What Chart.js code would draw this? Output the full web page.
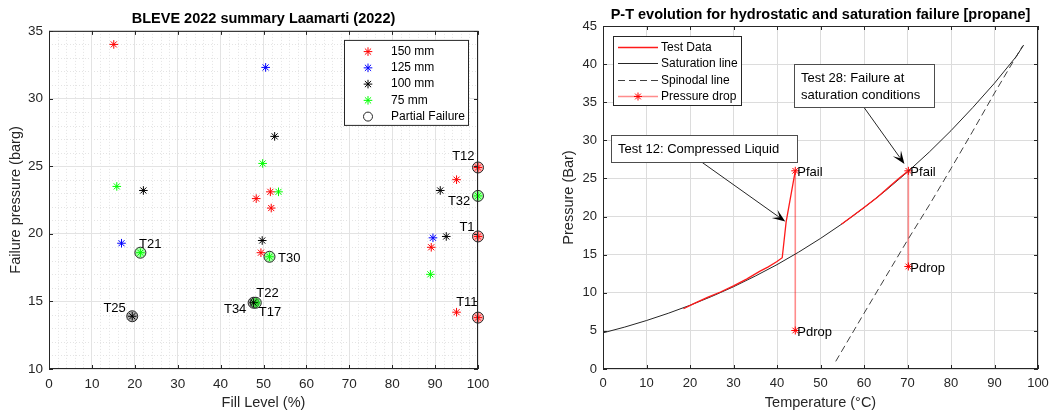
<!DOCTYPE html>
<html>
<head>
<meta charset="utf-8">
<script src="https://cdn.jsdelivr.net/npm/chart.js@4.4.1/dist/chart.umd.min.js"></script>
<style>
  body { margin: 0; background: #fff; }
  #wrap { position: relative; width: 1054px; height: 412px; }
  canvas { position: absolute; top: 0; }
</style>
</head>
<body>
<div id="wrap">
  <canvas id="leftChart" width="527" height="412" style="left:0"></canvas>
  <canvas id="rightChart" width="527" height="412" style="left:527px"></canvas>
</div>
<script>
// ---- left plot: fill level (%) vs failure pressure (barg), one list per tank size
const fill150 = [15.1, 48.3, 51.6, 51.8, 49.4, 100, 95, 100, 89.1, 95, 100];
const press150 = [34.0, 22.6, 23.1, 21.9, 18.6, 24.9, 24.0, 19.8, 19.0, 14.2, 13.8];
const fill125 = [50.5, 16.9, 89.5];
const press125 = [32.3, 19.3, 19.7];
const fill100 = [52.6, 22.0, 91.2, 49.7, 92.6, 19.4, 47.7];
const press100 = [27.2, 23.2, 23.2, 19.5, 19.8, 13.9, 14.9];
const fill75 = [49.8, 15.8, 53.5, 100, 21.3, 51.4, 88.9, 48.2];
const press75 = [25.2, 23.5, 23.1, 22.8, 18.6, 18.3, 17.0, 14.9];
const partialFill = [100, 100, 100, 100, 21.3, 51.4, 19.4, 47.7, 48.2];
const partialPress = [24.9, 22.8, 19.8, 13.8, 18.6, 18.3, 13.9, 14.9, 14.9];
const partialSize = ['150 mm', '75 mm', '150 mm', '150 mm', '75 mm', '75 mm', '100 mm', '100 mm', '75 mm'];

// test names written next to the partial failures (data coords of the text)
const testNames = ['T12', 'T32', 'T1', 'T11', 'T21', 'T30', 'T25', 'T22', 'T34', 'T17'];
const nameX = [99.2, 98.2, 99.2, 99.9, 21.0, 53.4, 17.9, 48.3, 46.0, 48.9];
const nameY = [25.7, 22.4, 20.5, 14.9, 19.2, 18.2, 14.5, 15.6, 14.4, 14.2];
const nameAlign = ['right', 'right', 'right', 'right', 'left', 'left', 'right', 'left', 'right', 'left'];

// ---- right plot: P-T evolution (propane)
const satT = [0, 5, 10, 15, 20, 25, 30, 35, 40, 45, 50, 55, 60, 65, 70, 75, 80, 85, 90, 95, 96.7];
const satP = [4.74, 5.50, 6.36, 7.31, 8.36, 9.52, 10.79, 12.19, 13.69, 15.34, 17.13, 19.06, 21.16, 23.42, 25.85, 28.46, 31.27, 34.3, 37.5, 41.0, 42.5];
const spinT = [53.5, 60, 65, 70, 75, 80, 85, 90, 95, 96.5];
const spinP = [1.0, 7.3, 12.1, 16.9, 21.5, 26.3, 31.2, 36.2, 41.0, 42.4];
const test12T = [18.5, 21, 24, 27, 30, 33, 36, 38, 40, 41.2, 42.1, 44.2];
const test12P = [7.9, 8.6, 9.4, 10.1, 10.9, 11.8, 12.8, 13.4, 14.1, 14.6, 19.3, 26.0];
const test28T = [54.8, 57, 60, 63, 66, 68, 70.2];
const test28P = [19.0, 19.9, 21.2, 22.5, 24.0, 25.0, 26.0];
const drop12T = [44.2, 44.2];
const drop12P = [26.0, 5.05];
const drop28T = [70.2, 70.2];
const drop28P = [26.0, 13.45];
const markNames = ['Pfail', 'Pdrop', 'Pfail', 'Pdrop'];
const markT = [44.2, 44.2, 70.2, 70.2];
const markP = [26.0, 5.05, 26.0, 13.45];

const notes = [
  {lines: ['Test 12: Compressed Liquid'], box: [1.9, 30.7, 44.6, 27.1], from: [22.8, 27.1], to: [41.9, 19.35]},
  {lines: ['Test 28: Failure at', 'saturation conditions'], box: [43.8, 40.0, 76.2, 34.4], from: [59.9, 34.4], to: [69.3, 26.9]}
];

const font = "'Liberation Sans', Arial, Helvetica, sans-serif";
Chart.defaults.font.family = font;
Chart.defaults.color = '#262626';

const sizeColors = {'150 mm': '#ff0000', '125 mm': '#0000ff', '100 mm': '#000000', '75 mm': '#00ff00'};
const sizeTints = {'150 mm': 'rgba(255,0,0,0.3)', '125 mm': 'rgba(0,0,255,0.3)', '100 mm': 'rgba(0,0,0,0.3)', '75 mm': 'rgba(0,255,0,0.35)'};

const pts = (xs, ys) => xs.map((x, i) => ({x: x, y: ys[i]}));

function marker(ctx, style, r, x, y) {
  ctx.beginPath();
  if (style === 'circle') {
    ctx.arc(x, y, r, 0, Math.PI * 2);
  } else {
    const d = r * 0.72;
    ctx.moveTo(x - r, y); ctx.lineTo(x + r, y);
    ctx.moveTo(x, y - r); ctx.lineTo(x, y + r);
    ctx.moveTo(x - d, y - d); ctx.lineTo(x + d, y + d);
    ctx.moveTo(x - d, y + d); ctx.lineTo(x + d, y - d);
  }
  ctx.stroke();
}

// box around the axes and inward ticks, matlab style
const framePlugin = {
  id: 'frame',
  afterDatasetsDraw(chart) {
    const ctx = chart.ctx, a = chart.chartArea, xs = chart.scales.x, ys = chart.scales.y;
    ctx.save();
    ctx.strokeStyle = '#262626';
    ctx.lineWidth = 1;
    ctx.strokeRect(a.left + 0.5, a.top + 0.5, a.right - a.left - 1, a.bottom - a.top - 1);
    ctx.beginPath();
    xs.ticks.forEach(t => {
      const p = Math.round(xs.getPixelForValue(t.value)) + 0.5;
      ctx.moveTo(p, a.bottom); ctx.lineTo(p, a.bottom - 4);
      ctx.moveTo(p, a.top); ctx.lineTo(p, a.top + 4);
    });
    ys.ticks.forEach(t => {
      const p = Math.round(ys.getPixelForValue(t.value)) + 0.5;
      ctx.moveTo(a.left, p); ctx.lineTo(a.left + 4, p);
      ctx.moveTo(a.right, p); ctx.lineTo(a.right - 4, p);
    });
    ctx.stroke();
    ctx.restore();
  }
};

const minorGridPlugin = {
  id: 'minorGrid',
  beforeDatasetsDraw(chart) {
    const ctx = chart.ctx, a = chart.chartArea, xs = chart.scales.x, ys = chart.scales.y;
    ctx.save();
    ctx.strokeStyle = '#e4e4e4';
    ctx.lineWidth = 1;
    ctx.setLineDash([1, 2]);
    ctx.beginPath();
    for (let v = 2; v < 100; v += 2) {
      if (v % 10 === 0) continue;
      const p = Math.round(xs.getPixelForValue(v)) + 0.5;
      ctx.moveTo(p, a.top); ctx.lineTo(p, a.bottom);
    }
    for (let v = 11; v < 35; v++) {
      if (v % 5 === 0) continue;
      const p = Math.round(ys.getPixelForValue(v)) + 0.5;
      ctx.moveTo(a.left, p); ctx.lineTo(a.right, p);
    }
    ctx.stroke();
    ctx.restore();
  }
};

const testNamePlugin = {
  id: 'testNames',
  afterDatasetsDraw(chart) {
    const ctx = chart.ctx, xs = chart.scales.x, ys = chart.scales.y;
    ctx.save();
    ctx.font = '13px ' + font;
    ctx.fillStyle = '#000';
    ctx.textBaseline = 'middle';
    testNames.forEach((name, i) => {
      ctx.textAlign = nameAlign[i];
      ctx.fillText(name, xs.getPixelForValue(nameX[i]), ys.getPixelForValue(nameY[i]));
    });
    ctx.restore();
  }
};

const leftLegend = {
  id: 'leftLegend',
  afterDraw(chart) {
    const ctx = chart.ctx, a = chart.chartArea;
    const w = 124, h = 85, x0 = a.right - 10 - w, y0 = a.top + 9;
    ctx.save();
    ctx.fillStyle = '#fff';
    ctx.fillRect(x0, y0, w, h);
    ctx.strokeStyle = '#262626';
    ctx.lineWidth = 1;
    ctx.strokeRect(x0 + 0.5, y0 + 0.5, w, h);
    ctx.font = '12px ' + font;
    ctx.textBaseline = 'middle';
    chart.data.datasets.forEach((ds, i) => {
      const y = y0 + 11.7 + i * 16.25;
      ctx.strokeStyle = ds.pointBorderColor;
      ctx.lineWidth = 1;
      marker(ctx, ds.pointStyle, ds.pointStyle === 'circle' ? 4.5 : 4.3, x0 + 24, y);
      ctx.fillStyle = '#000';
      ctx.fillText(ds.label, x0 + 47, y);
    });
    ctx.restore();
  }
};

const starSet = (label, xs, ys) => ({
  label: label, data: pts(xs, ys), pointStyle: 'star', pointRadius: 4.3,
  pointBorderColor: sizeColors[label], pointBackgroundColor: sizeColors[label], pointBorderWidth: 1, clip: false
});

new Chart(document.getElementById('leftChart'), {
  type: 'scatter',
  data: {
    datasets: [
      starSet('150 mm', fill150, press150),
      starSet('125 mm', fill125, press125),
      starSet('100 mm', fill100, press100),
      starSet('75 mm', fill75, press75),
      {label: 'Partial Failure', data: pts(partialFill, partialPress), pointStyle: 'circle', pointRadius: 5.5,
       pointBorderColor: '#262626', pointBackgroundColor: partialSize.map(s => sizeTints[s]),
       pointBorderWidth: 1, clip: false}
    ]
  },
  options: {
    responsive: false,
    animation: false,
    layout: {padding: {top: 0, right: 49, bottom: 0, left: 0}},
    plugins: {
      legend: {display: false},
      tooltip: {enabled: false},
      title: {display: true, text: 'BLEVE 2022 summary Laamarti (2022)', fullSize: false, color: '#000',
              font: {size: 14.5, weight: 'bold'}, padding: {top: 10, bottom: 3.5}}
    },
    scales: {
      x: {
        min: 0, max: 100,
        ticks: {stepSize: 10, padding: 7, font: {size: 13.5}},
        grid: {color: '#e3e3e3', drawTicks: false},
        border: {display: false},
        title: {display: true, text: 'Fill Level (%)', font: {size: 14.5}, padding: {top: 0, bottom: 0}},
        afterFit: s => { s.height = 43; s.paddingLeft = 0; s.paddingRight = 0; }
      },
      y: {
        min: 10, max: 35,
        ticks: {stepSize: 5, padding: 6, font: {size: 13.5}},
        grid: {color: '#e3e3e3', drawTicks: false},
        border: {display: false},
        title: {display: true, text: 'Failure pressure (barg)', font: {size: 14.5}, padding: {top: 7, bottom: 0}},
        afterFit: s => { s.width = 49; s.paddingTop = 0; s.paddingBottom = 0; }
      }
    }
  },
  plugins: [minorGridPlugin, framePlugin, testNamePlugin, leftLegend]
});

// ---- right chart

function arrow(ctx, x1, y1, x2, y2) {
  const ang = Math.atan2(y2 - y1, x2 - x1), L = 13, W = 5;
  const c = Math.cos(ang), s = Math.sin(ang);
  ctx.beginPath();
  ctx.moveTo(x1, y1);
  ctx.lineTo(x2 - c * L * 0.6, y2 - s * L * 0.6);
  ctx.stroke();
  ctx.beginPath();
  ctx.moveTo(x2, y2);
  ctx.lineTo(x2 - c * L - s * W, y2 - s * L + c * W);
  ctx.lineTo(x2 - c * L * 0.55, y2 - s * L * 0.55);
  ctx.lineTo(x2 - c * L + s * W, y2 - s * L - c * W);
  ctx.closePath();
  ctx.fill();
}

const notesPlugin = {
  id: 'notes',
  afterDatasetsDraw(chart) {
    const ctx = chart.ctx, xs = chart.scales.x, ys = chart.scales.y;
    ctx.save();
    ctx.font = '13px ' + font;
    ctx.textBaseline = 'middle';
    ctx.lineWidth = 1;
    // Pfail / Pdrop
    ctx.fillStyle = '#000';
    markNames.forEach((name, i) => {
      ctx.fillText(name, xs.getPixelForValue(markT[i]) + 2, ys.getPixelForValue(markP[i]) + 2);
    });
    notes.forEach(n => {
      ctx.strokeStyle = '#262626';
      ctx.fillStyle = '#000';
      arrow(ctx, xs.getPixelForValue(n.from[0]), ys.getPixelForValue(n.from[1]),
                 xs.getPixelForValue(n.to[0]), ys.getPixelForValue(n.to[1]));
      const l = Math.round(xs.getPixelForValue(n.box[0])) + 0.5, t = Math.round(ys.getPixelForValue(n.box[1])) + 0.5;
      const r = Math.round(xs.getPixelForValue(n.box[2])) + 0.5, b = Math.round(ys.getPixelForValue(n.box[3])) + 0.5;
      ctx.fillStyle = '#fff';
      ctx.fillRect(l, t, r - l, b - t);
      ctx.strokeStyle = '#4d4d4d';
      ctx.strokeRect(l, t, r - l, b - t);
      ctx.fillStyle = '#000';
      n.lines.forEach((line, k) => ctx.fillText(line, l + 6.5, t + 13.5 + k * 17));
    });
    ctx.restore();
  }
};

const rightLegend = {
  id: 'rightLegend',
  afterDraw(chart) {
    const ctx = chart.ctx, a = chart.chartArea;
    const w = 128, h = 69, x0 = a.left + 10, y0 = a.top + 10;
    ctx.save();
    ctx.fillStyle = '#fff';
    ctx.fillRect(x0, y0, w, h);
    ctx.strokeStyle = '#262626';
    ctx.lineWidth = 1;
    ctx.strokeRect(x0 + 0.5, y0 + 0.5, w, h);
    ctx.font = '12px ' + font;
    ctx.textBaseline = 'middle';
    chart.data.datasets.filter(ds => ds.label).forEach((ds, i) => {
      const y = Math.round(y0 + 10.7 + i * 16.5) + 0.5;
      ctx.strokeStyle = ds.borderColor;
      ctx.lineWidth = ds.borderWidth;
      ctx.setLineDash(ds.borderDash || []);
      ctx.beginPath();
      ctx.moveTo(x0 + 5, y); ctx.lineTo(x0 + 45, y);
      ctx.stroke();
      ctx.setLineDash([]);
      if (ds.pointRadius > 0) {
        ctx.strokeStyle = ds.pointBorderColor;
        ctx.lineWidth = 1;
        marker(ctx, 'star', 4, x0 + 25, y);
      }
      ctx.fillStyle = '#000';
      ctx.fillText(ds.label, x0 + 48, y);
    });
    ctx.restore();
  }
};

const lineSet = (label, xs, ys, color, width, dash) => ({
  label: label, data: pts(xs, ys), showLine: true, borderColor: color, borderWidth: width,
  borderDash: dash || [], pointRadius: 0
});
const dropSet = (label, xs, ys) => ({
  label: label, data: pts(xs, ys), showLine: true, borderColor: 'rgba(255,0,0,0.45)', borderWidth: 1.6,
  pointStyle: 'star', pointRadius: 4, pointBorderColor: '#ff0000', pointBorderWidth: 1
});

new Chart(document.getElementById('rightChart'), {
  type: 'scatter',
  data: {
    datasets: [
      lineSet('Test Data', test12T, test12P, '#ff1a1a', 1.3),
      lineSet('', test28T, test28P, '#ff1a1a', 1.3),
      lineSet('Saturation line', satT, satP, '#262626', 1),
      lineSet('Spinodal line', spinT, spinP, '#404040', 1, [7, 4]),
      dropSet('Pressure drop', drop12T, drop12P),
      dropSet('', drop28T, drop28P)
    ]
  },
  options: {
    responsive: false,
    animation: false,
    layout: {padding: {top: 0, right: 16, bottom: 0, left: 0}},
    plugins: {
      legend: {display: false},
      tooltip: {enabled: false},
      title: {display: true, text: 'P-T evolution for hydrostatic and saturation failure [propane]', fullSize: false,
              color: '#000', font: {size: 14.5, weight: 'bold'}, padding: {top: 6, bottom: 2.6}}
    },
    scales: {
      x: {
        min: 0, max: 100,
        ticks: {stepSize: 10, padding: 7, font: {size: 13}},
        grid: {color: '#dcdcdc', drawTicks: false},
        border: {display: false},
        title: {display: true, text: 'Temperature (°C)', font: {size: 14.5}, padding: {top: 0, bottom: 0}},
        afterFit: s => { s.height = 43; s.paddingLeft = 0; s.paddingRight = 0; }
      },
      y: {
        min: 0, max: 45,
        ticks: {stepSize: 5, padding: 6, font: {size: 13}},
        grid: {color: '#dcdcdc', drawTicks: false},
        border: {display: false},
        title: {display: true, text: 'Pressure (Bar)', font: {size: 14.5}, padding: {top: 33, bottom: 0}},
        afterFit: s => { s.width = 76; s.paddingTop = 0; s.paddingBottom = 0; }
      }
    }
  },
  plugins: [framePlugin, notesPlugin, rightLegend]
});
</script>
</body>
</html>
